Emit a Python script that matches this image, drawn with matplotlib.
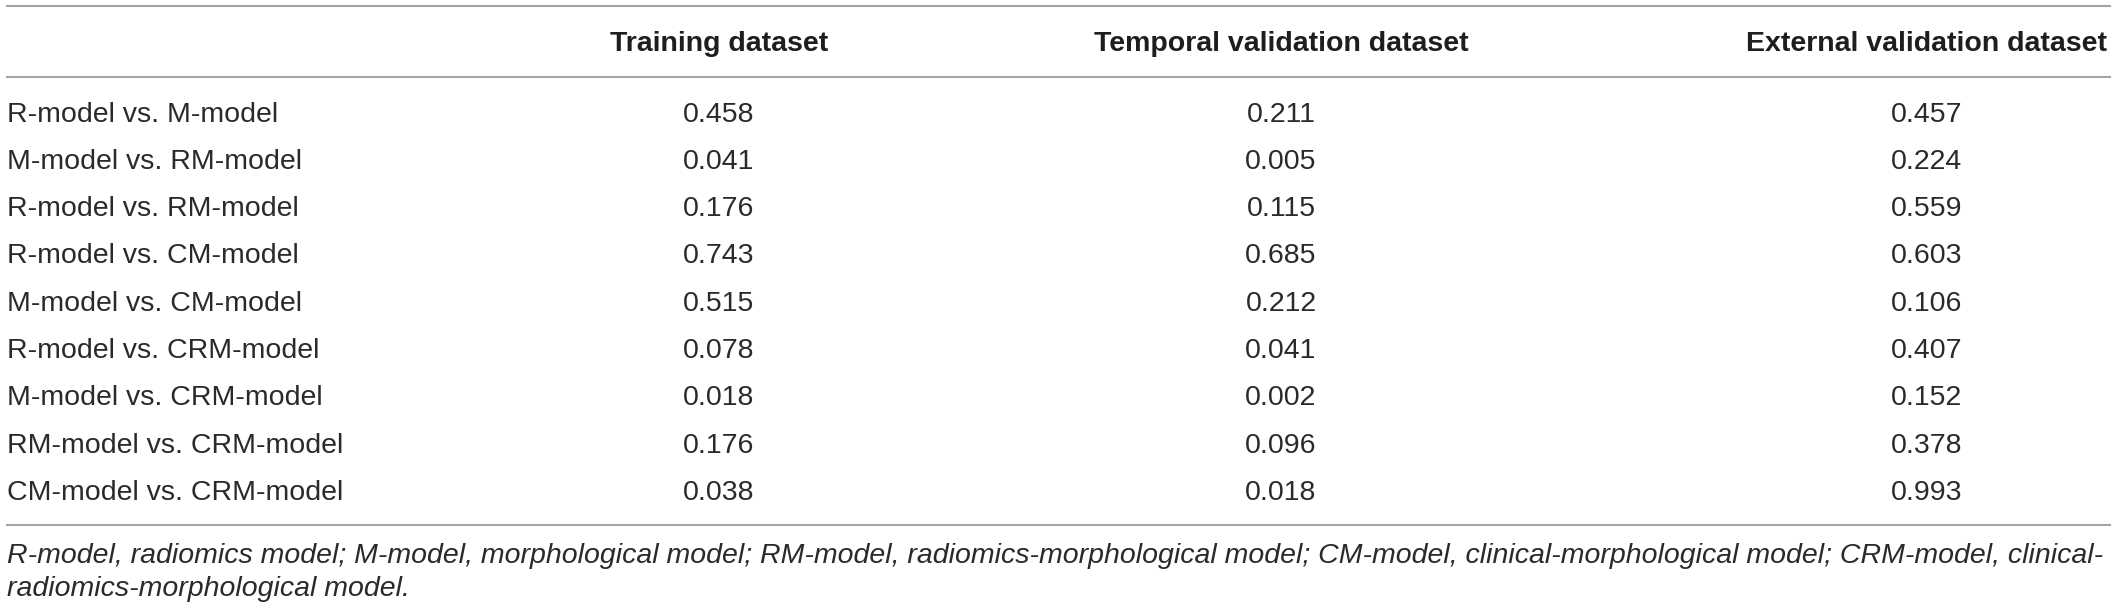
import matplotlib
matplotlib.use("Agg")
import matplotlib.pyplot as plt

# table content
COLUMNS = ["Training dataset", "Temporal validation dataset", "External validation dataset"]
COMPARISONS = [
    "R-model vs. M-model",
    "M-model vs. RM-model",
    "R-model vs. RM-model",
    "R-model vs. CM-model",
    "M-model vs. CM-model",
    "R-model vs. CRM-model",
    "M-model vs. CRM-model",
    "RM-model vs. CRM-model",
    "CM-model vs. CRM-model",
]
TRAINING = ["0.458", "0.041", "0.176", "0.743", "0.515", "0.078", "0.018", "0.176", "0.038"]
TEMPORAL = ["0.211", "0.005", "0.115", "0.685", "0.212", "0.041", "0.002", "0.096", "0.018"]
EXTERNAL = ["0.457", "0.224", "0.559", "0.603", "0.106", "0.407", "0.152", "0.378", "0.993"]
FOOTNOTE = [
    "R-model, radiomics model; M-model, morphological model; RM-model, radiomics-morphological model; "
    "CM-model, clinical-morphological model; CRM-model, clinical-",
    "radiomics-morphological model.",
]

W, H = 2118, 612
FONT = "Liberation Sans"
TEXT_COLOR = "#2a2a2a"
HEAD_COLOR = "#1e1e1e"
RULE_COLOR = "#a3a3a3"

fig = plt.figure(figsize=(W / 100, H / 100), dpi=100)
ax = fig.add_axes([0, 0, 1, 1])
ax.set_xlim(0, W)
ax.set_ylim(H, 0)
ax.axis("off")

x_left, x_right = 6, 2111
col_x = [719, 1281, 1927]

# rules
for y in (6, 77, 525):
    ax.hlines(y, x_left, x_right, color=RULE_COLOR, linewidth=1.5)

# header
for x, name in zip(col_x, COLUMNS):
    ax.text(x, 51, name, ha="center", va="baseline", fontsize=20.5,
            fontweight="bold", family=FONT, color=HEAD_COLOR)

# body rows
row_gap = 47.3
for i, label in enumerate(COMPARISONS):
    y = 110 + i * row_gap + 11.5
    ax.text(7, y, label, ha="left", va="baseline", fontsize=20.5,
            family=FONT, color=TEXT_COLOR)
    for x, vals in zip(col_x, (TRAINING, TEMPORAL, EXTERNAL)):
        ax.text(x, y, vals[i], ha="center", va="baseline", fontsize=20.5,
                family=FONT, color=TEXT_COLOR)

# footnote
for y, line in zip((563, 596), FOOTNOTE):
    ax.text(7, y, line, ha="left", va="baseline", fontsize=20.5,
            style="italic", family=FONT, color=TEXT_COLOR)

fig.savefig("out.png", dpi=100, facecolor="white")
